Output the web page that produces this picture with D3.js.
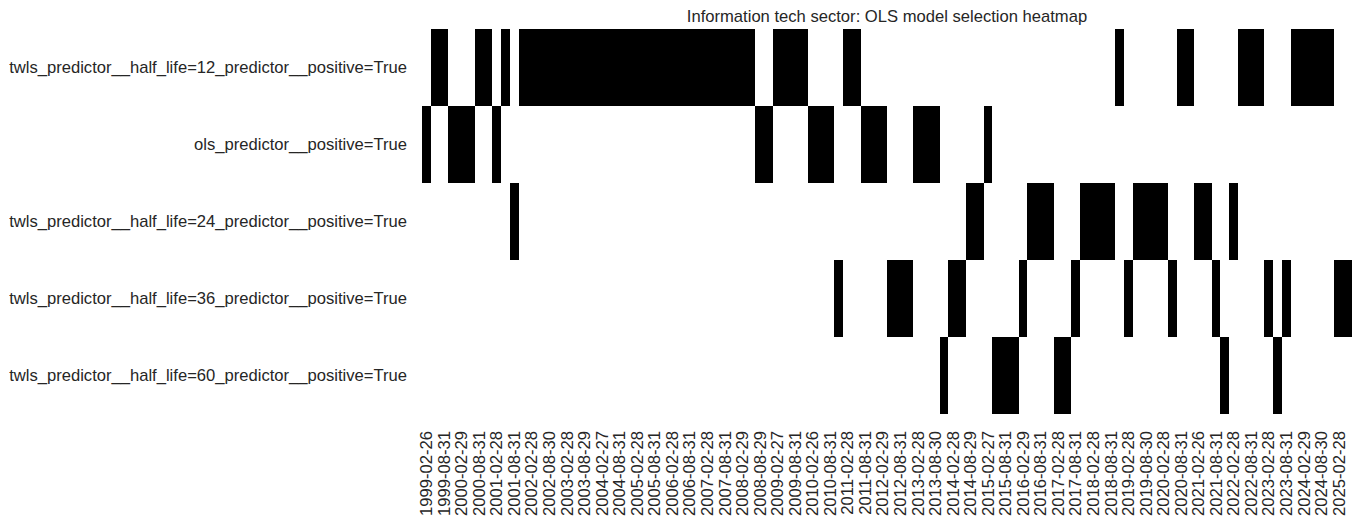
<!DOCTYPE html>
<html>
<head>
<meta charset="utf-8">
<script src="https://cdn.jsdelivr.net/npm/d3@7"></script>
<style>
  html, body { margin: 0; padding: 0; background: #ffffff; }
  svg { display: block; font-family: "Liberation Sans", Arial, sans-serif; }
</style>
</head>
<body>
<svg id="chart" width="1362" height="523"></svg>
<script>
// ---- data ----
const title = "Information tech sector: OLS model selection heatmap";

const models = [
  "twls_predictor__half_life=12_predictor__positive=True",
  "ols_predictor__positive=True",
  "twls_predictor__half_life=24_predictor__positive=True",
  "twls_predictor__half_life=36_predictor__positive=True",
  "twls_predictor__half_life=60_predictor__positive=True"
];

// index of the selected model for each quarterly column (1999-02 .. 2025-05)
const selectedModel = [
  1, 0, 0, 1, 1, 1, 0, 0, 1, 0,
  2, 0, 0, 0, 0, 0, 0, 0, 0, 0,
  0, 0, 0, 0, 0, 0, 0, 0, 0, 0,
  0, 0, 0, 0, 0, 0, 0, 0, 1, 1,
  0, 0, 0, 0, 1, 1, 1, 3, 0, 0,
  1, 1, 1, 3, 3, 3, 1, 1, 1, 4,
  3, 3, 2, 2, 1, 4, 4, 4, 3, 2,
  2, 2, 4, 4, 3, 2, 2, 2, 2, 0,
  3, 2, 2, 2, 2, 3, 0, 0, 2, 2,
  3, 4, 2, 0, 0, 0, 3, 4, 3, 0,
  0, 0, 0, 0, 3, 3
];

// labels shown on every second column
const tickLabels = [
  "1999-02-26","1999-08-31","2000-02-29","2000-08-31","2001-02-28","2001-08-31",
  "2002-02-28","2002-08-30","2003-02-28","2003-08-29","2004-02-27","2004-08-31",
  "2005-02-28","2005-08-31","2006-02-28","2006-08-31","2007-02-28","2007-08-31",
  "2008-02-29","2008-08-29","2009-02-27","2009-08-31","2010-02-26","2010-08-31",
  "2011-02-28","2011-08-31","2012-02-29","2012-08-31","2013-02-28","2013-08-30",
  "2014-02-28","2014-08-29","2015-02-27","2015-08-31","2016-02-29","2016-08-31",
  "2017-02-28","2017-08-31","2018-02-28","2018-08-31","2019-02-28","2019-08-30",
  "2020-02-28","2020-08-31","2021-02-26","2021-08-31","2022-02-28","2022-08-31",
  "2023-02-28","2023-08-31","2024-02-29","2024-08-30","2025-02-28"
];

// ---- layout ----
const mLeft = 422, mRight = 1352, mTop = 29, mBottom = 414;
const fontSize = 16.6;
const textColor = "#262626";

const svg = d3.select("#chart");

const columns = d3.range(selectedModel.length);
const x = d3.scaleBand().domain(columns).range([mLeft, mRight]).padding(0);
const y = d3.scaleBand().domain(models).range([mTop, mBottom]).padding(0);
const color = d3.scaleOrdinal().domain([0, 1]).range(["#ffffff", "#000000"]);

// cells (white first, black on top)
const cells = [];
columns.forEach(c => {
  models.forEach((m, r) => {
    cells.push({ col: c, model: m, value: selectedModel[c] === r ? 1 : 0 });
  });
});
cells.sort((a, b) => a.value - b.value);

svg.append("g")
  .attr("shape-rendering", "crispEdges")
  .selectAll("rect")
  .data(cells)
  .join("rect")
  .attr("x", d => Math.round(x(d.col)))
  .attr("y", d => Math.round(y(d.model)))
  .attr("width", d => Math.round(x(d.col) + x.bandwidth()) - Math.round(x(d.col)))
  .attr("height", d => Math.round(y(d.model) + y.bandwidth()) - Math.round(y(d.model)))
  .attr("fill", d => color(d.value));

// x axis
const xTickValues = columns.filter(c => c % 2 === 0).slice(0, tickLabels.length);
const xAxis = d3.axisBottom(x)
  .tickValues(xTickValues)
  .tickSize(0)
  .tickFormat(c => tickLabels[c / 2]);

const gx = svg.append("g")
  .attr("transform", `translate(0,${mBottom})`)
  .call(xAxis);
gx.select(".domain").remove();
gx.selectAll("text")
  .attr("font-size", fontSize)
  .attr("font-family", "Liberation Sans, Arial, sans-serif")
  .attr("fill", textColor)
  .attr("text-anchor", "end")
  .attr("dy", "0.35em")
  .attr("y", 0)
  .attr("x", 0)
  .attr("transform", "translate(0,17) rotate(-90)");

// y axis
const yAxis = d3.axisLeft(y).tickSize(0).tickPadding(15);
const gy = svg.append("g")
  .attr("transform", `translate(${mLeft},0)`)
  .call(yAxis);
gy.select(".domain").remove();
gy.selectAll("text")
  .attr("font-size", fontSize)
  .attr("font-family", "Liberation Sans, Arial, sans-serif")
  .attr("fill", textColor);

// title
svg.append("text")
  .attr("x", (mLeft + mRight) / 2)
  .attr("y", 22)
  .attr("text-anchor", "middle")
  .attr("font-size", fontSize)
  .attr("fill", textColor)
  .text(title);
</script>
</body>
</html>
